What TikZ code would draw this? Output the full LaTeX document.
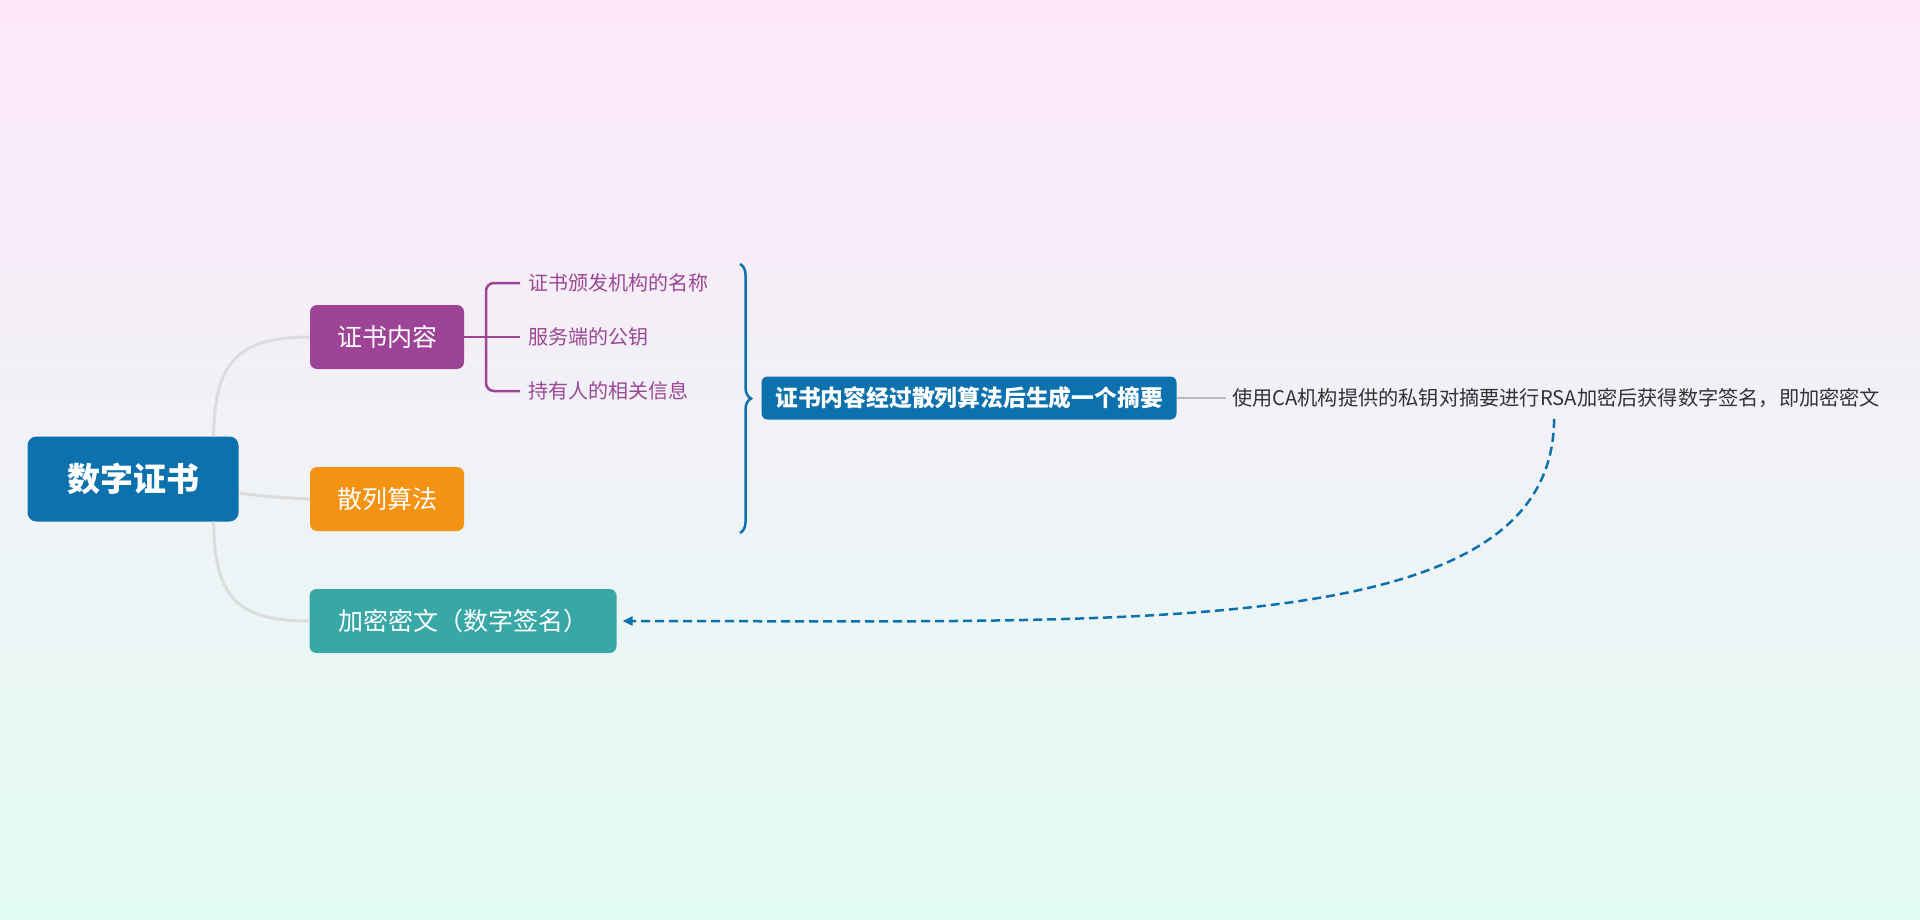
\documentclass[tikz,border=0pt]{standalone}
\usepackage{fontspec}
\setmainfont{Noto Sans CJK SC}
\usetikzlibrary{calc, positioning, arrows.meta, decorations.pathreplacing}
\definecolor{bgtop}{HTML}{FDE7F9}
\definecolor{bgbot}{HTML}{E3FDF4}
\definecolor{rootblue}{HTML}{0C71AD}
\definecolor{purp}{HTML}{9D4496}
\definecolor{orng}{HTML}{F39213}
\definecolor{teal}{HTML}{37A8A6}
\definecolor{itemtext}{HTML}{9A4894}
\definecolor{linkgrey}{HTML}{DCDCDC}
\definecolor{notetext}{HTML}{333333}

\begin{document}
\begin{tikzpicture}[
  x=1pt, y=-1pt,
  box/.style={rounded corners=7pt, text=white, align=center, inner sep=0pt,
    minimum height=64pt, font=\fontsize{25}{30}\selectfont},
  item/.style={anchor=west, text=itemtext, inner sep=8pt, font=\fontsize{20}{24}\selectfont},
  link/.style={draw=linkgrey, line width=3pt},
  fork/.style={draw=purp, line width=2.5pt},
  sigline/.style={draw=rootblue, line width=2.5pt, dash pattern=on 9pt off 5pt,
    -{Triangle[length=10pt, width=9pt]}}
]
  % background
  \shade[top color=bgtop, bottom color=bgbot] (0,0) rectangle (1920,920);

  \node[box, fill=rootblue, minimum width=211pt, minimum height=85pt, rounded corners=9pt,
    font=\fontsize{33}{38}\selectfont\bfseries] (root) at (133,479) {数字证书};

  \node[box, fill=purp, minimum width=154pt] (content) at (387,337) {证书内容};
  \node[box, fill=orng, minimum width=154pt] (hash) at (387,499) {散列算法};
  \node[box, fill=teal, minimum width=307pt] (cipher) at (463,621) {加密密文（数字签名）};

  \draw[link] ($(root.north east)+(-25,0)$) .. controls (214,360) and (240,337) .. (content.west);
  \draw[link] ($(root.east)+(0,14)$) .. controls (270,497) .. (hash.west);
  \draw[link] ($(root.south east)+(-25,0)$) .. controls (214,600) and (240,621) .. (cipher.west);

  % certificate fields
  \node[item] (issuer) at (520,283) {证书颁发机构的名称};
  \node[item] (pubkey) at (520,337) {服务端的公钥};
  \node[item] (holder) at (520,391) {持有人的相关信息};

  \coordinate (split) at (486,337);
  \draw[fork] (content.east) -- (split);
  \draw[fork, rounded corners=8pt] (issuer.west) -| (split) |- (holder.west);
  \draw[fork] (split) -- (pubkey.west);

  % digest
  \coordinate (btop) at (740,264);
  \coordinate (bbot) at (740,533);
  \draw[draw=rootblue, line width=2.5pt, decorate, decoration={brace, amplitude=11pt}] (btop) -- (bbot);

  \node[box, fill=rootblue, minimum width=415pt, minimum height=43pt, rounded corners=6pt,
    font=\fontsize{22.8}{27}\selectfont\bfseries] (digest) at (969,398) {证书内容经过散列算法后生成一个摘要};

  \node[anchor=west, text=notetext, inner sep=6pt, font=\fontsize{20.2}{24}\selectfont]
    (note) at (1226,398) {使用CA机构提供的私钥对摘要进行RSA加密后获得数字签名，即加密密文};
  \draw[draw=black!28, line width=2pt] (digest.east) -- (note.west);

  \draw[sigline] ($(note.south)+(-2,5)$) .. controls (1553,640) and (1150,621) .. ($(cipher.east)+(6,0)$);
\end{tikzpicture}
\end{document}
